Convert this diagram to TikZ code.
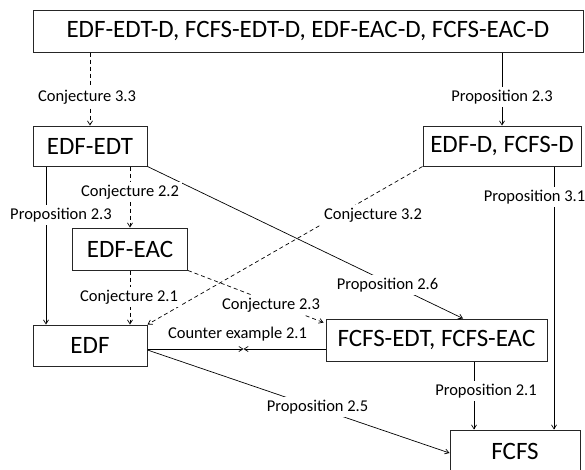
\documentclass[tikz,border=0pt]{standalone}
\usepackage{fontspec}
\setmainfont{Carlito}
\usetikzlibrary{arrows.meta}
\begin{document}
\begin{tikzpicture}[x=1pt,y=-1pt,
  box/.style={draw=black!85,line width=1pt,rectangle,inner sep=0pt,font=\fontsize{25}{27}\selectfont},
  conn/.style={line width=0.7pt,-{Straight Barb[length=4pt,width=5pt]}},
  dsh/.style={conn,dash pattern=on 4pt off 3pt},
  lbl/.style={fill=white,inner sep=3pt,font=\fontsize{16.5}{18}\selectfont}]
\useasboundingbox (0,0) rectangle (585,469);
\node[box,minimum width=550pt,minimum height=42pt] (top) at (308,31) {EDF-EDT-D, FCFS-EDT-D, EDF-EAC-D, FCFS-EAC-D};
\node[box,minimum width=114pt,minimum height=40pt] (edfedt) at (90,146) {EDF-EDT};
\node[box,minimum width=158pt,minimum height=40pt] (edfd) at (502,146) {EDF-D, FCFS-D};
\node[box,minimum width=115pt,minimum height=42pt] (edfeac) at (130,249) {EDF-EAC};
\node[box,minimum width=114pt,minimum height=41pt] (edf) at (90,345.5) {EDF};
\node[box,minimum width=221pt,minimum height=42pt] (fcfsedt) at (436.5,340) {FCFS-EDT, FCFS-EAC};
\node[box,minimum width=130pt,minimum height=42pt] (fcfs) at (515,451) {FCFS};
\coordinate (cm) at (243.5,349);
% connectors
\draw[dsh] (top.south -| edfedt.north) -- (edfedt.north);
\draw[conn] (top.south -| edfd.north) -- (edfd.north);
\draw[dsh] ([xshift=40pt]edfedt.south) -- (edfeac.north);
\draw[conn] ([xshift=-44pt]edfedt.south) -- ([xshift=-44pt]edf.north);
\draw[dsh] (edfeac.south) -- ([xshift=40pt]edf.north);
\draw[conn] (edfedt.south east) -- ([xshift=26.5pt]fcfsedt.north);
\draw[dsh] (edfd.south west) -- (edf.north east);
\draw[dsh] (edfeac.south east) -- ([xshift=-2pt,yshift=-4pt]fcfsedt.north west);
\draw[conn] ([yshift=-3.5pt]edf.east) -- (cm);
\draw[conn] ([yshift=-9pt]fcfsedt.west) -- (cm);
\draw[conn] ([yshift=-4.5pt]edf.east) -- ([yshift=-2pt]fcfs.west);
\draw[conn] ([xshift=37.5pt]fcfsedt.south) -- ([xshift=-41pt]fcfs.north);
\draw[conn] ([xshift=52pt]edfd.south) -- ([xshift=39pt]fcfs.north);
% labels
\node[lbl] (l33) at (87,97) {Conjecture 3.3};
\node[lbl] (l23a) at (502,97) {Proposition 2.3};
\node[lbl] (l22) at (130,192) {Conjecture 2.2};
\node[lbl] (l23b) at (61,215) {Proposition 2.3};
\node[lbl] (l21c) at (129,297) {Conjecture 2.1};
\node[lbl] (l26) at (387.5,285) {Proposition 2.6};
\node[lbl] (l32) at (373,215) {Conjecture 3.2};
\node[lbl] (l23c) at (271,305) {Conjecture 2.3};
\node[lbl,fill=none] (lce) at (237.5,334) {Counter example 2.1};
\node[lbl] (l25) at (317.5,407) {Proposition 2.5};
\node[lbl] (l21p) at (486,391) {Proposition 2.1};
\node[lbl] (l31) at (534.5,197) {Proposition 3.1};
\end{tikzpicture}
\end{document}
